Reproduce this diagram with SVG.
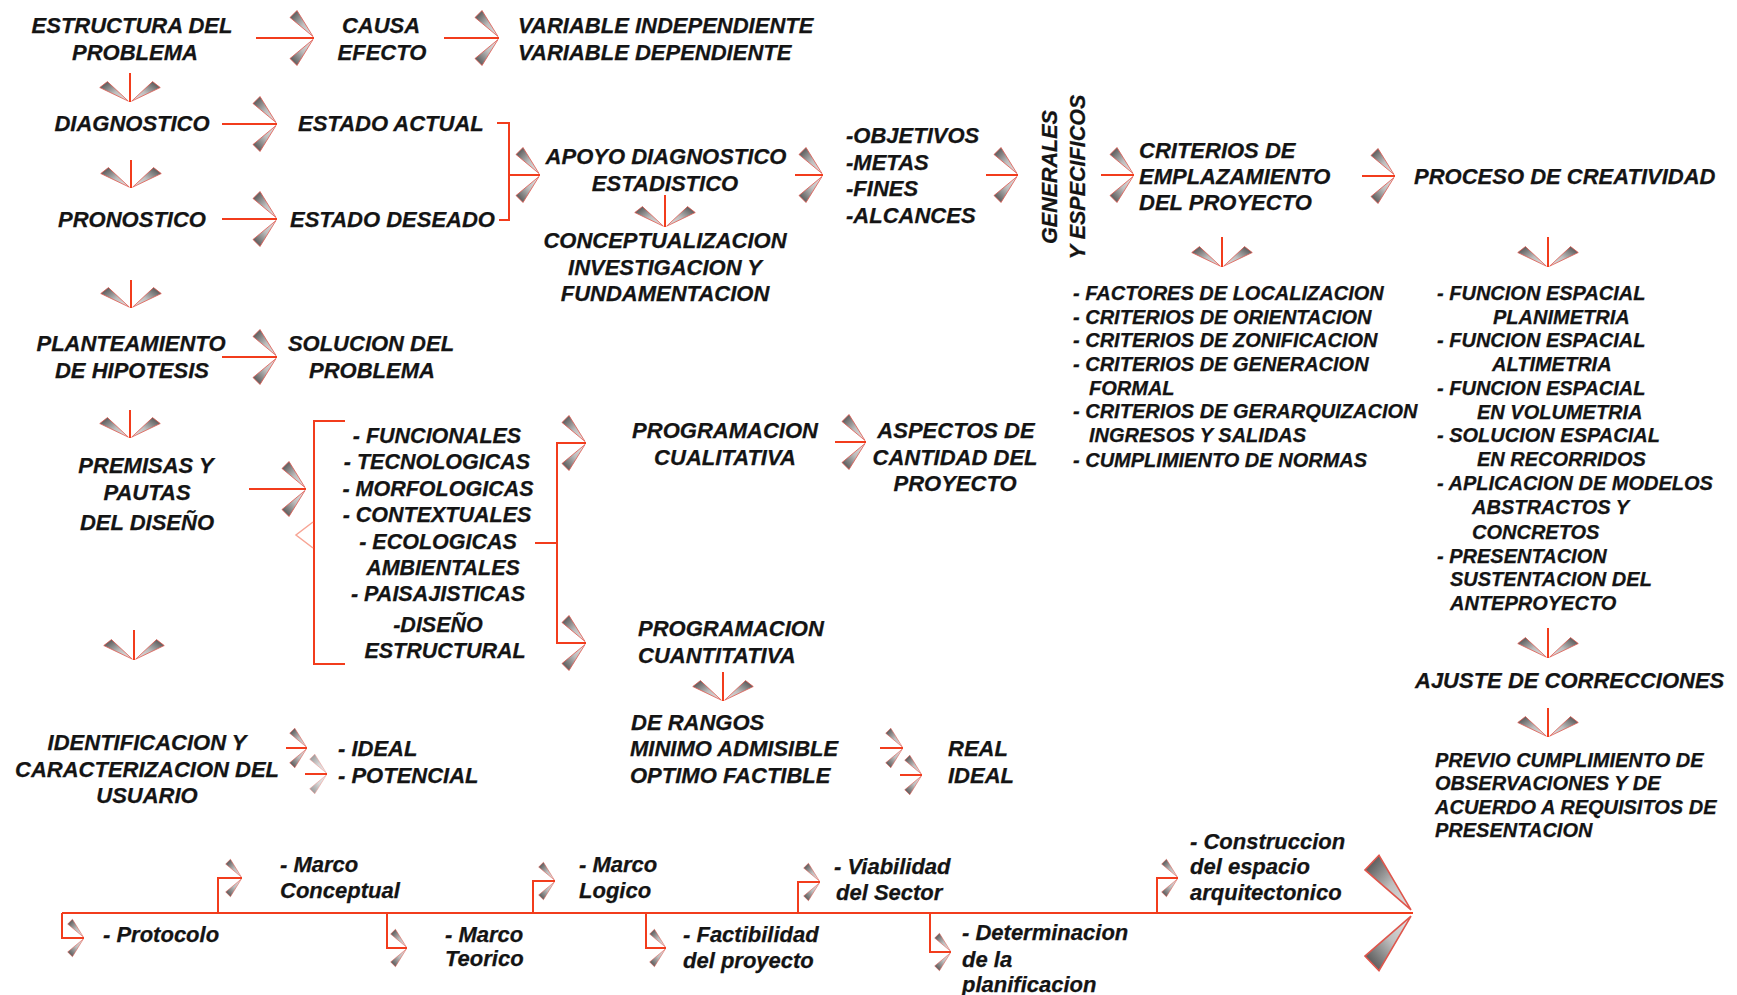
<svg xmlns="http://www.w3.org/2000/svg" xmlns:xlink="http://www.w3.org/1999/xlink" width="1737" height="995" viewBox="0 0 1737 995">
<style>
.t{font-family:"Liberation Sans",Arial,sans-serif;font-weight:bold;font-style:italic;fill:#141414;stroke:#141414;stroke-width:0.25;font-size:22px}
.s{font-size:20px}
.l{font-size:21.5px}
.m{text-anchor:middle}
.ln{fill:none;stroke:#f23c1c;stroke-width:2}
.wu{fill:url(#gu);stroke:#e0564c;stroke-width:0.8}
.wd{fill:url(#gd);stroke:#e0564c;stroke-width:0.8}
</style>
<defs>
<linearGradient id="gu" x1="0" y1="0" x2="1" y2="1"><stop offset="0" stop-color="#3e3e3e"/><stop offset="0.55" stop-color="#bdbdbd"/><stop offset="1" stop-color="#e8e8e8"/></linearGradient>
<linearGradient id="gd" x1="0" y1="1" x2="1" y2="0"><stop offset="0" stop-color="#3e3e3e"/><stop offset="0.55" stop-color="#bdbdbd"/><stop offset="1" stop-color="#e8e8e8"/></linearGradient>
<g id="ch">
<polygon class="wu" points="-1,-1.5 -24,-20.5 -17,-27.5"/>
<polygon class="wd" points="-1,1.5 -24,20.5 -17,27.5"/>
</g>
</defs>
<rect width="1737" height="995" fill="#ffffff"/>

<g id="connectors">
<path class="ln" d="M256,38H314M444,38H499M222,124H277M222,219H277M497,123H509V220H499M509,175H540M795,175H823M986,175H1018M1101,175H1134M1362,176H1395M222,357H277M249,489H306M345,421H314V664H345M535,543H557M586,443H557V643H586M835,442H866M880,748H903M900,775H922M286,748H307M305,774H327"/>
<path class="ln" d="M130,73V102M131,160V188M131,280V308M130,410V438M134,630V660M665,195V227M723,672V701M1222,237V267M1548,237V267M1548,628V658M1548,708V737"/>
<path class="ln" d="M62,913H1413M62,913V938H84M218,913V878H242M387,913V948H407M533,913V881H555M646,913V948H666M798,913V882H820M930,913V952H951M1157,913V878H1178"/>
<polyline points="313,522 296,535 313,548" fill="none" stroke="#f7a595" stroke-width="1.5"/>
<use xlink:href="#ch" transform="translate(314,38)"/>
<use xlink:href="#ch" transform="translate(499,38)"/>
<use xlink:href="#ch" transform="translate(277,124)"/>
<use xlink:href="#ch" transform="translate(277,219)"/>
<use xlink:href="#ch" transform="translate(540,175)"/>
<use xlink:href="#ch" transform="translate(823,175)"/>
<use xlink:href="#ch" transform="translate(1018,175)"/>
<use xlink:href="#ch" transform="translate(1134,175)"/>
<use xlink:href="#ch" transform="translate(1395,176)"/>
<use xlink:href="#ch" transform="translate(277,357)"/>
<use xlink:href="#ch" transform="translate(306,489)"/>
<use xlink:href="#ch" transform="translate(586,443)"/>
<use xlink:href="#ch" transform="translate(586,643)"/>
<use xlink:href="#ch" transform="translate(866,442)"/>
<use xlink:href="#ch" transform="translate(903,748) scale(0.72)"/>
<use xlink:href="#ch" transform="translate(922,775) scale(0.72)"/>
<use xlink:href="#ch" transform="translate(307,748) scale(0.72)"/>
<use xlink:href="#ch" transform="translate(327,774) scale(0.72)" opacity="0.6"/>
<use xlink:href="#ch" transform="translate(130,102) rotate(90) scale(0.85,1.1)"/>
<use xlink:href="#ch" transform="translate(131,188) rotate(90) scale(0.85,1.1)"/>
<use xlink:href="#ch" transform="translate(131,308) rotate(90) scale(0.85,1.1)"/>
<use xlink:href="#ch" transform="translate(130,438) rotate(90) scale(0.85,1.1)"/>
<use xlink:href="#ch" transform="translate(134,660) rotate(90) scale(0.85,1.1)"/>
<use xlink:href="#ch" transform="translate(665,227) rotate(90) scale(0.85,1.1)"/>
<use xlink:href="#ch" transform="translate(723,701) rotate(90) scale(0.85,1.1)"/>
<use xlink:href="#ch" transform="translate(1222,267) rotate(90) scale(0.85,1.1)"/>
<use xlink:href="#ch" transform="translate(1548,267) rotate(90) scale(0.85,1.1)"/>
<use xlink:href="#ch" transform="translate(1548,658) rotate(90) scale(0.85,1.1)"/>
<use xlink:href="#ch" transform="translate(1548,737) rotate(90) scale(0.85,1.1)"/>
<use xlink:href="#ch" transform="translate(84,938) scale(0.68)"/>
<use xlink:href="#ch" transform="translate(242,878) scale(0.68)"/>
<use xlink:href="#ch" transform="translate(407,948) scale(0.68)"/>
<use xlink:href="#ch" transform="translate(555,881) scale(0.68)"/>
<use xlink:href="#ch" transform="translate(666,948) scale(0.68)"/>
<use xlink:href="#ch" transform="translate(820,882) scale(0.68)"/>
<use xlink:href="#ch" transform="translate(951,952) scale(0.68)"/>
<use xlink:href="#ch" transform="translate(1178,878) scale(0.68)"/>
<use xlink:href="#ch" transform="translate(1413,913) scale(2,2.1)"/>
</g>

<g id="estructura"><text class="t m" x="132" y="33">ESTRUCTURA DEL</text><text class="t m" x="135" y="60">PROBLEMA</text></g>
<g id="causa"><text class="t m" x="381" y="33">CAUSA</text><text class="t m" x="382" y="60">EFECTO</text></g>
<g id="variables"><text class="t" x="518" y="33">VARIABLE INDEPENDIENTE</text><text class="t" x="518" y="60">VARIABLE DEPENDIENTE</text></g>
<g id="diagnostico"><text class="t m" x="132" y="131">DIAGNOSTICO</text></g>
<g id="estado-actual"><text class="t" x="298" y="131">ESTADO ACTUAL</text></g>
<g id="pronostico"><text class="t m" x="132" y="227">PRONOSTICO</text></g>
<g id="estado-deseado"><text class="t" x="290" y="227">ESTADO DESEADO</text></g>
<g id="apoyo"><text class="t m" x="666" y="164">APOYO DIAGNOSTICO</text><text class="t m" x="665" y="191">ESTADISTICO</text></g>
<g id="conceptualizacion"><text class="t m" x="665" y="248">CONCEPTUALIZACION</text><text class="t m" x="665" y="275">INVESTIGACION Y</text><text class="t m" x="665" y="301">FUNDAMENTACION</text></g>
<g id="objetivos"><text class="t" x="846" y="143">-OBJETIVOS</text><text class="t" x="846" y="170">-METAS</text><text class="t" x="846" y="196">-FINES</text><text class="t" x="846" y="223">-ALCANCES</text></g>
<g id="generales"><text class="t m" style="font-size:21.5px" transform="translate(1057,177) rotate(-90)">GENERALES</text><text class="t m" style="font-size:21.5px" transform="translate(1085,177) rotate(-90)">Y ESPECIFICOS</text></g>
<g id="criterios"><text class="t" x="1139" y="158">CRITERIOS DE</text><text class="t" x="1139" y="184">EMPLAZAMIENTO</text><text class="t" x="1139" y="210">DEL PROYECTO</text></g>
<g id="proceso"><text class="t" x="1414" y="184">PROCESO DE CREATIVIDAD</text></g>
<g id="factores">
<text class="t s" x="1073" y="300">- FACTORES DE LOCALIZACION</text>
<text class="t s" x="1073" y="324">- CRITERIOS DE ORIENTACION</text>
<text class="t s" x="1073" y="347">- CRITERIOS DE ZONIFICACION</text>
<text class="t s" x="1073" y="371">- CRITERIOS DE GENERACION</text>
<text class="t s" x="1089" y="395">FORMAL</text>
<text class="t s" x="1073" y="418">- CRITERIOS DE GERARQUIZACION</text>
<text class="t s" x="1089" y="442">INGRESOS Y SALIDAS</text>
<text class="t s" x="1073" y="467">- CUMPLIMIENTO DE NORMAS</text>
</g>
<g id="funcion">
<text class="t s" x="1437" y="300">- FUNCION ESPACIAL</text>
<text class="t s" x="1493" y="324">PLANIMETRIA</text>
<text class="t s" x="1437" y="347">- FUNCION ESPACIAL</text>
<text class="t s" x="1492" y="371">ALTIMETRIA</text>
<text class="t s" x="1437" y="395">- FUNCION ESPACIAL</text>
<text class="t s" x="1477" y="419">EN VOLUMETRIA</text>
<text class="t s" x="1437" y="442">- SOLUCION ESPACIAL</text>
<text class="t s" x="1477" y="466">EN RECORRIDOS</text>
<text class="t s" x="1437" y="490">- APLICACION DE MODELOS</text>
<text class="t s" x="1472" y="514">ABSTRACTOS Y</text>
<text class="t s" x="1472" y="539">CONCRETOS</text>
<text class="t s" x="1437" y="563">- PRESENTACION</text>
<text class="t s" x="1450" y="586">SUSTENTACION DEL</text>
<text class="t s" x="1450" y="610">ANTEPROYECTO</text>
</g>
<g id="ajuste"><text class="t" x="1415" y="688">AJUSTE DE CORRECCIONES</text></g>
<g id="previo">
<text class="t s" x="1435" y="767">PREVIO CUMPLIMIENTO DE</text>
<text class="t s" x="1435" y="790">OBSERVACIONES Y DE</text>
<text class="t s" x="1435" y="814">ACUERDO A REQUISITOS DE</text>
<text class="t s" x="1435" y="837">PRESENTACION</text>
</g>
<g id="planteamiento"><text class="t m" x="131" y="351">PLANTEAMIENTO</text><text class="t m" x="132" y="378">DE HIPOTESIS</text></g>
<g id="solucion"><text class="t m" x="371" y="351">SOLUCION DEL</text><text class="t m" x="372" y="378">PROBLEMA</text></g>
<g id="premisas"><text class="t m" x="146" y="473">PREMISAS Y</text><text class="t m" x="147" y="500">PAUTAS</text><text class="t m" x="147" y="530">DEL DISEÑO</text></g>
<g id="funcionales">
<text class="t l m" x="437" y="443">- FUNCIONALES</text>
<text class="t l m" x="437" y="469">- TECNOLOGICAS</text>
<text class="t l m" x="438" y="496">- MORFOLOGICAS</text>
<text class="t l m" x="437" y="522">- CONTEXTUALES</text>
<text class="t l m" x="438" y="549">- ECOLOGICAS</text>
<text class="t l m" x="443" y="575">AMBIENTALES</text>
<text class="t l m" x="438" y="601">- PAISAJISTICAS</text>
<text class="t l m" x="438" y="632">-DISEÑO</text>
<text class="t l m" x="445" y="658">ESTRUCTURAL</text>
</g>
<g id="cualitativa"><text class="t m" x="725" y="438">PROGRAMACION</text><text class="t m" x="725" y="465">CUALITATIVA</text></g>
<g id="aspectos"><text class="t m" x="956" y="438">ASPECTOS DE</text><text class="t m" x="955" y="465">CANTIDAD DEL</text><text class="t m" x="955" y="491">PROYECTO</text></g>
<g id="cuantitativa"><text class="t" x="638" y="636">PROGRAMACION</text><text class="t" x="638" y="663">CUANTITATIVA</text></g>
<g id="rangos"><text class="t" x="631" y="730">DE RANGOS</text><text class="t" x="630" y="756">MINIMO ADMISIBLE</text><text class="t" x="630" y="783">OPTIMO FACTIBLE</text></g>
<g id="real"><text class="t" x="948" y="756">REAL</text><text class="t" x="948" y="783">IDEAL</text></g>
<g id="usuario"><text class="t m" x="147" y="750">IDENTIFICACION Y</text><text class="t m" x="147" y="777">CARACTERIZACION DEL</text><text class="t m" x="147" y="803">USUARIO</text></g>
<g id="ideal"><text class="t" x="338" y="756">- IDEAL</text><text class="t" x="338" y="783">- POTENCIAL</text></g>
<g id="protocolo"><text class="t" x="103" y="942">- Protocolo</text></g>
<g id="marco-conceptual"><text class="t" x="280" y="872">- Marco</text><text class="t" x="280" y="898">Conceptual</text></g>
<g id="marco-teorico"><text class="t" x="445" y="942">- Marco</text><text class="t" x="445" y="966">Teorico</text></g>
<g id="marco-logico"><text class="t" x="579" y="872">- Marco</text><text class="t" x="579" y="898">Logico</text></g>
<g id="factibilidad"><text class="t" x="683" y="942">- Factibilidad</text><text class="t" x="683" y="968">del proyecto</text></g>
<g id="viabilidad"><text class="t" x="834" y="874">- Viabilidad</text><text class="t" x="836" y="900">del Sector</text></g>
<g id="determinacion"><text class="t" x="962" y="940">- Determinacion</text><text class="t" x="962" y="967">de la</text><text class="t" x="962" y="992">planificacion</text></g>
<g id="construccion"><text class="t" x="1190" y="849">- Construccion</text><text class="t" x="1190" y="874">del espacio</text><text class="t" x="1190" y="900">arquitectonico</text></g>
</svg>
